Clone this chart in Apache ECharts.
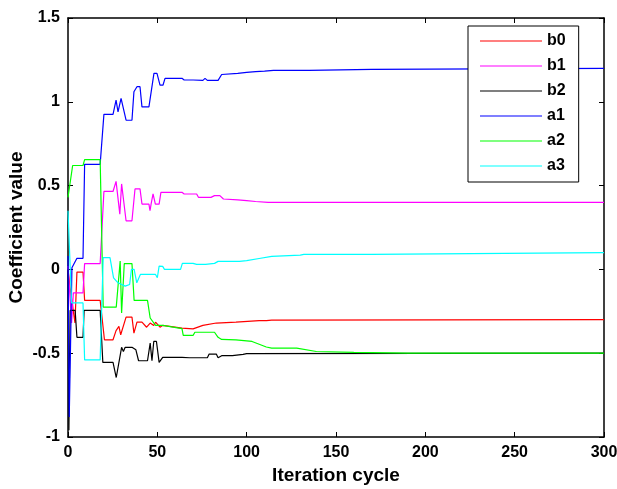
<!DOCTYPE html>
<html><head><meta charset="utf-8">
<script src="https://cdn.jsdelivr.net/npm/echarts@6/dist/echarts.min.js"></script>
<style>html,body{margin:0;background:#fff}#c{width:617px;height:489px}</style>
</head><body><div id="c"></div><script>
const xTicks = [0, 50, 100, 150, 200, 250, 300];
const yTicks = [-1, -0.5, 0, 0.5, 1, 1.5];
const names = ['b0', 'b1', 'b2', 'a1', 'a2', 'a3'];
const colors = ['#ff0000', '#ff00ff', '#000000', '#0000ff', '#00ff00', '#00ffff'];

const b0 = [[0,0],[1,-0.095],[3.9,-0.32],[5,-0.016],[8.4,-0.016],[9.3,-0.185],[18,-0.185],[20.4,-0.42],[25.2,-0.42],[26.9,-0.365],[28,-0.365],[28.5,-0.34],[29.5,-0.39],[32.5,-0.285],[35.8,-0.285],[36.9,-0.38],[38.6,-0.315],[41.4,-0.315],[44,-0.345],[46,-0.32],[48,-0.335],[49,-0.315],[51.5,-0.345],[53,-0.334],[63.8,-0.35],[64.5,-0.355],[70,-0.355],[75.5,-0.334],[83,-0.32],[94,-0.315],[107,-0.306],[111,-0.306],[112,-0.315],[114,-0.303],[300,-0.3]];
const b1 = [[0,0.02],[2,-0.32],[3,-0.14],[8.4,-0.14],[9.3,0.035],[18,0.035],[20.1,0.465],[25.2,0.465],[26.9,0.525],[27.5,0.525],[29,0.33],[30,0.51],[32.5,0.29],[35.8,0.29],[37.5,0.48],[40.3,0.48],[41.4,0.39],[45.3,0.39],[45.9,0.35],[46.5,0.39],[47.6,0.45],[48.9,0.39],[51,0.39],[52,0.46],[63.8,0.46],[65,0.45],[72,0.45],[73,0.43],[80,0.43],[82,0.44],[85,0.44],[87,0.42],[95,0.415],[100,0.41],[105,0.405],[112,0.4],[113,0.408],[114,0.4],[300,0.4]];
const b2 = [[0,0],[0.5,-0.96],[1.2,-0.245],[4,-0.245],[5,-0.405],[8.4,-0.405],[9,-0.245],[18,-0.245],[19.5,-0.555],[25.2,-0.555],[27,-0.645],[28,-0.645],[30,-0.465],[31,-0.49],[32,-0.465],[35.8,-0.465],[38,-0.48],[39.5,-0.545],[44.5,-0.545],[46,-0.44],[47,-0.545],[48,-0.43],[49.5,-0.43],[51,-0.555],[53,-0.525],[63.8,-0.525],[68,-0.527],[78,-0.527],[79,-0.505],[83,-0.505],[84,-0.527],[86,-0.515],[92,-0.515],[98,-0.507],[100,-0.503],[300,-0.5]];
const a1 = [[0,0.08],[0.7,-0.88],[2.2,0.01],[5,0.066],[8.4,0.066],[9.3,0.627],[18,0.627],[20.1,0.925],[25.2,0.925],[26.9,1.01],[28,0.94],[29.7,1.02],[32.5,0.89],[35.8,0.89],[36.9,1.06],[38.6,1.09],[40.3,1.09],[41.4,0.97],[45.3,0.97],[48.1,1.17],[49.8,1.17],[51.5,1.1],[53.2,1.1],[54.3,1.14],[63.8,1.14],[65,1.13],[70,1.13],[71,1.128],[75.5,1.128],[76.7,1.14],[78,1.128],[84,1.128],[86,1.163],[95,1.17],[100,1.175],[105,1.18],[110,1.183],[115,1.187],[135,1.187],[136,1.193],[170,1.193],[171,1.2],[300,1.2]];
const a2 = [[0,0.43],[0.7,0.43],[2.6,0.62],[8.4,0.62],[9.3,0.655],[18,0.655],[19.7,-0.225],[27,-0.225],[29.2,0.05],[30,-0.26],[31.5,0.035],[35.8,0.035],[37,-0.185],[44.5,-0.185],[46,-0.29],[47,-0.3],[49,-0.334],[53,-0.334],[63.8,-0.353],[64.5,-0.394],[70,-0.394],[71,-0.375],[82,-0.375],[84,-0.405],[86,-0.418],[94,-0.42],[103,-0.43],[111,-0.463],[114,-0.47],[128,-0.47],[139,-0.49],[160,-0.495],[190,-0.5],[300,-0.5]];
const a3 = [[0,0.35],[0.5,0.35],[2,-0.2],[8.4,-0.2],[9.3,-0.54],[18,-0.54],[19.7,0.07],[23.5,0.07],[25.5,-0.05],[28,-0.08],[32,-0.1],[34.5,-0.09],[35.5,0],[37,0],[38.5,-0.08],[40.5,-0.03],[49,-0.03],[50,-0.05],[51,0.02],[53,0.018],[54,0],[63,0],[64,0.036],[70,0.036],[72,0.03],[77,0.03],[78,0.036],[82,0.036],[84,0.048],[96,0.048],[100,0.052],[107,0.065],[114,0.078],[130,0.085],[132,0.09],[170,0.09],[171,0.1],[300,0.1]];
const seriesData = [b0, b1, b2, a1, a2, a3];

const FONT = '"Liberation Sans", Arial, Helvetica, sans-serif';
const axisLine = {show: true, onZero: false, lineStyle: {color: '#000', width: 1.5}};
const tick = {show: true, inside: true, length: 5, lineStyle: {color: '#000', width: 1}};
const lbl = {show: true, color: '#000', fontFamily: FONT, fontWeight: 'bold', fontSize: 16, margin: 8};

function xa(pos, main) {
  return {type: 'value', position: pos, min: xTicks[0], max: xTicks[xTicks.length-1], interval: xTicks[1]-xTicks[0],
    axisLine: axisLine, axisTick: tick, splitLine: {show: false},
    axisLabel: main ? lbl : {show: false},
    name: main ? 'Iteration cycle' : '', nameLocation: 'middle', nameGap: 29, nameMoveOverlap: false,
    nameTextStyle: {color: '#000', fontFamily: FONT, fontWeight: 'bold', fontSize: 19}};
}
function ya(pos, main) {
  return {type: 'value', position: pos, min: yTicks[0], max: yTicks[yTicks.length-1], interval: yTicks[1]-yTicks[0],
    axisLine: axisLine, axisTick: tick, splitLine: {show: false},
    axisLabel: main ? lbl : {show: false},
    name: main ? 'Coefficient value' : '', nameLocation: 'middle', nameGap: 42, nameMoveOverlap: false,
    nameTextStyle: {color: '#000', fontFamily: FONT, fontWeight: 'bold', fontSize: 19}};
}

const chart = echarts.init(document.getElementById('c'), null, {renderer: 'canvas'});
chart.setOption({
  animation: false,
  backgroundColor: '#fff',
  grid: {left: 68, right: 13, top: 18, bottom: 52, containLabel: false, outerBoundsMode: 'none'},
  xAxis: [xa('bottom', true), xa('top', false)],
  yAxis: [ya('left', true), ya('right', false)],
  legend: {
    orient: 'vertical', left: 468, top: 26, padding: [7, 13, 8, 12],
    borderColor: '#000', borderWidth: 1, backgroundColor: '#fff',
    itemWidth: 62, itemHeight: 14, itemGap: 9,
    icon: 'path://M0,0H100V2H0Z',
    textStyle: {color: '#000', fontFamily: FONT, fontWeight: 'bold', fontSize: 16},
    data: names
  },
  series: names.map((n, i) => ({
    name: n, type: 'line', data: seriesData[i], xAxisIndex: 0, yAxisIndex: 0,
    symbol: 'none', showSymbol: false, color: colors[i],
    lineStyle: {color: colors[i], width: 1.2}
  }))
});
</script></body></html>
